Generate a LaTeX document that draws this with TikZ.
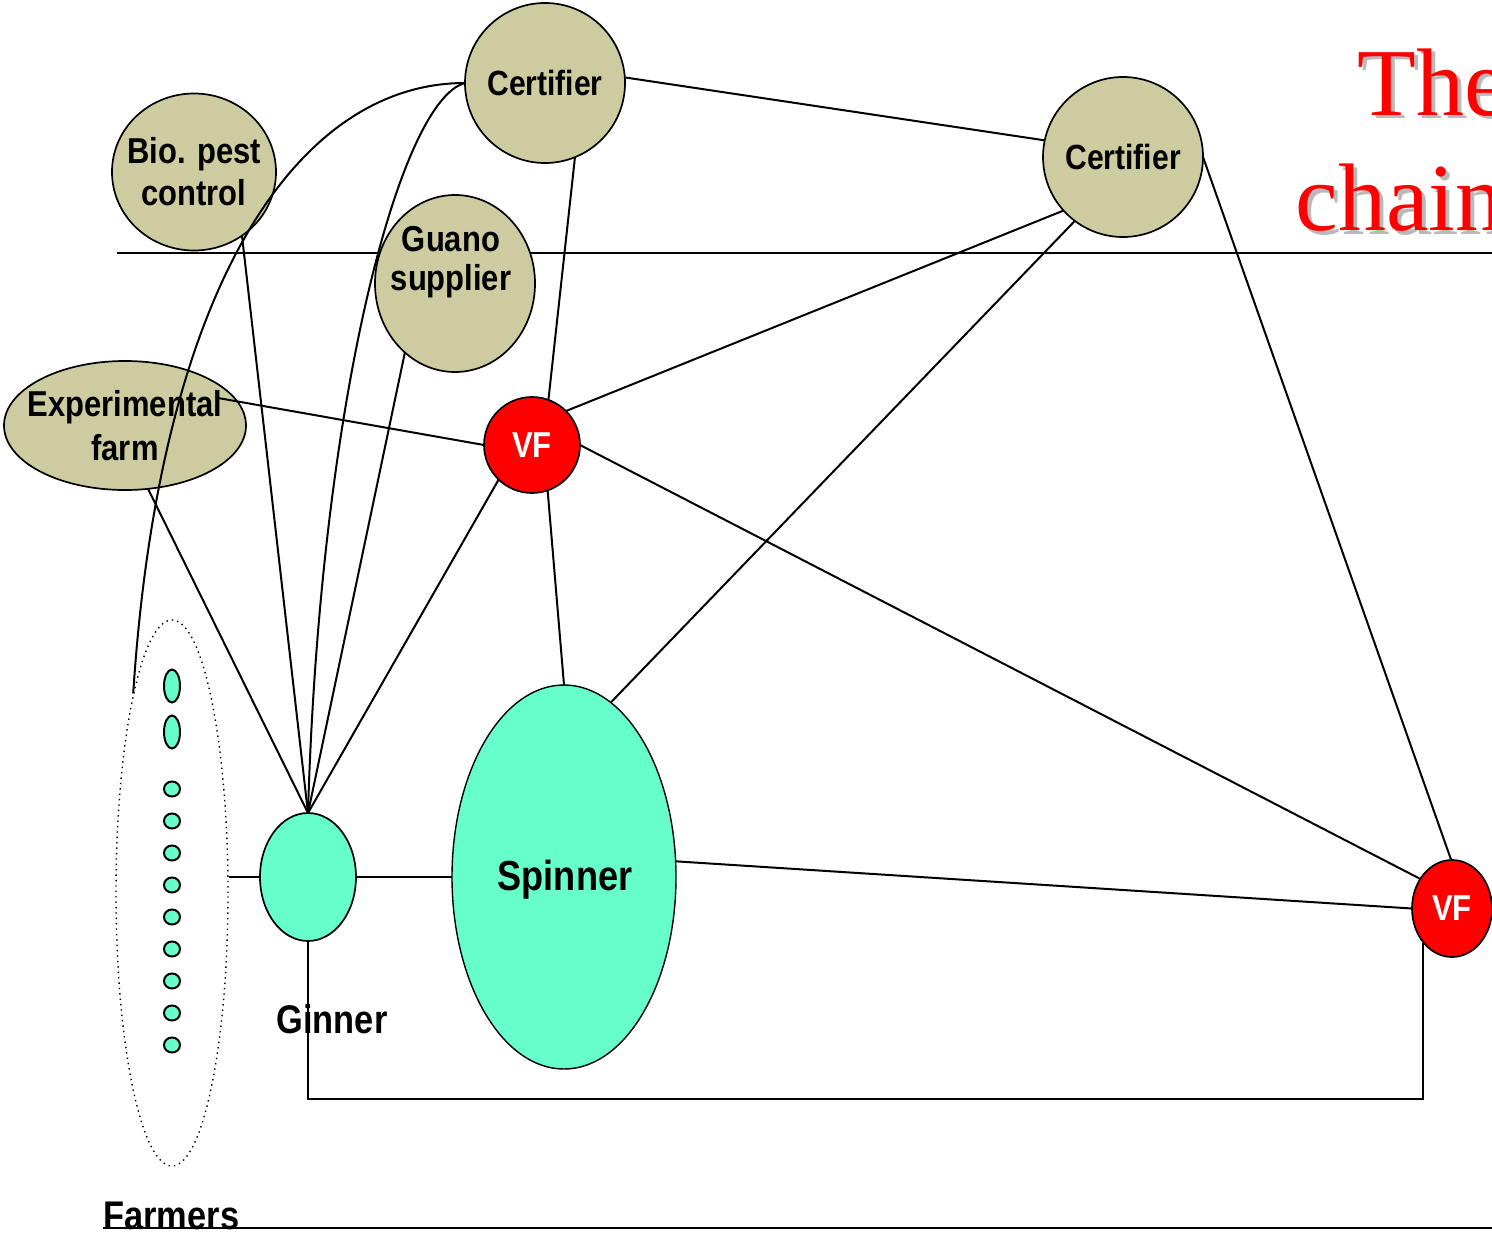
\documentclass[tikz,border=0pt]{standalone}
\usepackage{fontspec}
\usetikzlibrary{shapes.geometric}
\newfontfamily\lblfont{Liberation Sans}[FakeStretch=0.86]
\newfontfamily\titlefont{Liberation Serif}
\definecolor{khaki}{RGB}{204,204,160}
\definecolor{mint}{RGB}{102,255,204}
\definecolor{vfred}{RGB}{255,0,0}
\definecolor{shade}{RGB}{185,185,185}

\begin{document}
\begin{tikzpicture}[x=0.5pt,y=-0.5pt,
  party/.style={ellipse, draw, line width=0.85pt, inner sep=0pt, outer sep=0pt},
  khakinode/.style={party, fill=khaki},
  mintnode/.style={party, fill=mint},
  vfnode/.style={party, fill=vfred},
  caption/.style={font={\lblfont\bfseries\fontsize{18}{21}\selectfont}, align=center, inner sep=0pt},
  biglabel/.style={font={\lblfont\bfseries\fontsize{20}{24}\selectfont}, inner sep=0pt},
  headline/.style={font={\titlefont\fontsize{48}{48}\selectfont}, inner sep=0pt, anchor=base west},
  link/.style={line width=1pt},
  rule/.style={line width=0.85pt}]

\useasboundingbox (0,0) rectangle (1492,1236);

% separating rules
\draw[rule] (117,253) -- (1492,253);
\draw[rule] (103,1228) -- (1492,1228);

% actors
\node[khakinode, minimum width=80pt, minimum height=80pt] (cert1) at (545,83) {};
\node[khakinode, minimum width=80pt, minimum height=80pt] (cert2) at (1123,157) {};
\node[khakinode, minimum width=82pt, minimum height=78.5pt] (bio) at (194,172) {};
\node[khakinode, minimum width=80pt, minimum height=88.5pt] (guano) at (455,283.5) {};
\node[khakinode, minimum width=121pt, minimum height=64.5pt] (exp) at (125,425.5) {};
\node[vfnode, minimum width=48pt, minimum height=48pt] (vf1) at (532,445) {};
\node[vfnode, minimum width=40pt, minimum height=48.5pt] (vf2) at (1452,908.5) {};
\node[mintnode, minimum width=48pt, minimum height=64pt] (ginner) at (308,877) {};
\node[mintnode, line width=0.7pt, minimum width=112pt, minimum height=192pt] (spinner) at (564,877) {};
\node[ellipse, draw, dotted, line width=0.7pt, inner sep=0pt,
      minimum width=56pt, minimum height=273pt] (farmers) at (172,893) {};

% individual farmers
\foreach \y [count=\i] in {686,732}
  \node[mintnode, line width=1pt, minimum width=8pt, minimum height=16.5pt] (fa\i) at (172,\y) {};
\foreach \y [count=\i from 3] in {789,821,...,1045}
  \node[mintnode, line width=1pt, minimum width=8pt, minimum height=7.5pt] (fa\i) at (172,\y) {};

% captions
\node[caption, font={\lblfont\bfseries\fontsize{17.5}{21}\selectfont}] at (cert1) {Certifier};
\node[caption, font={\lblfont\bfseries\fontsize{17.5}{21}\selectfont}] at (cert2) {Certifier};
\node[caption] at (bio) {Bio. pest\\control};
\node[caption, font={\lblfont\bfseries\fontsize{18}{19.5}\selectfont}] at (451,262) {Guano\\supplier};
\node[caption, font={\lblfont\bfseries\fontsize{18}{22}\selectfont}] at (exp) {Experimental\\farm};
\node[caption, text=white] at (vf1) {VF};
\node[caption, text=white] at (vf2) {VF};
\node[caption, font={\lblfont\bfseries\fontsize{21}{24}\selectfont}] at (565,880) {Spinner};
\node[biglabel, anchor=base] at (332,1033) {Ginner};
\node[biglabel, anchor=base west] at (103,1229) {Farmers};

% links
\coordinate (expIn) at ([xshift=46.5pt,yshift=13.75pt]exp.center);
\draw[link] (cert1.4) -- (cert2.168);
\draw[link] (cert1.292.5) -- (vf1.70);
\draw[link] (cert1.180) .. controls (300,83) and (160,280) .. (farmers.101.7);
\draw[link] (cert1.180) .. controls (400,100) and (320,400) .. (ginner.north);
\draw[link] (bio.307) -- (ginner.north);
\draw[link] (guano.234) -- (ginner.north);
\draw[link] (exp.290) -- (ginner.north);
\draw[link] (vf1.226.6) -- (ginner.north);
\draw[link] (expIn) -- (vf1.180);
\draw[link] (cert2.222.9) -- (vf1.45);
\draw[link] (cert2.233.6) -- (spinner.75);
\draw[link] (cert2.0) -- (vf2.91);
\draw[link] (vf1.0) -- (vf2.137.6);
\draw[link] (vf1.289) -- (spinner.north);
\draw[link] (spinner.8) -- (vf2.180);
\draw[link] (ginner.east) -- (spinner.west);
\draw[link] (farmers.east |- ginner.west) -- (ginner.west);
\coordinate (loopR) at (1423,1099);
\draw[link] (ginner.south) |- (loopR) -- (loopR |- vf2.231.9);

% heading
\begin{scope}
  \clip (0,0) rectangle (1492,1236);
  \node[headline, text=shade] at (1361,119) {The};
  \node[headline, text=vfred] at (1357,115) {The};
  \node[headline, text=shade] at (1299,234) {chain};
  \node[headline, text=vfred] at (1295,230) {chain};
\end{scope}
\end{tikzpicture}
\end{document}
